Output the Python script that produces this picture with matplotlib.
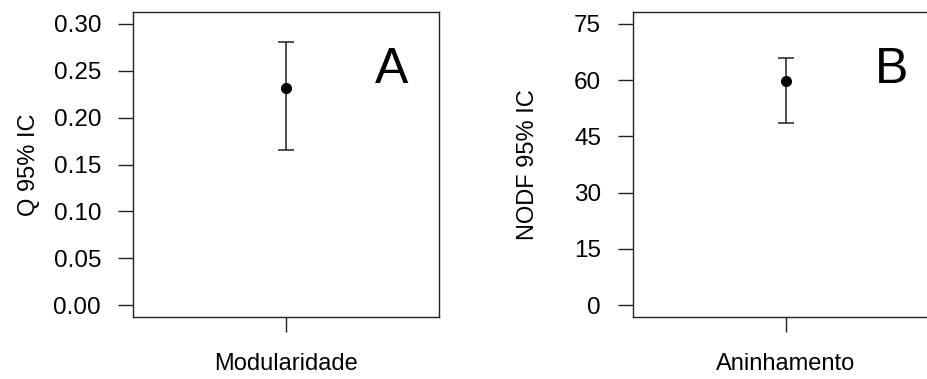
import matplotlib
matplotlib.use('Agg')
import matplotlib.pyplot as plt

plt.rcParams['font.family'] = ['Liberation Sans', 'DejaVu Sans']

# painel A - modularidade
mod_nome = ['Modularidade']
mod_media = [0.232]
mod_inf = [0.166]
mod_sup = [0.281]
mod_ticks = [0.00, 0.05, 0.10, 0.15, 0.20, 0.25, 0.30]

# painel B - aninhamento
nodf_nome = ['Aninhamento']
nodf_media = [59.7]
nodf_inf = [48.5]
nodf_sup = [65.9]
nodf_ticks = [0, 15, 30, 45, 60, 75]


def painel(ax, nome, media, inf, sup, ticks, ylab, letra, fmt, ypad):
    x = [1]
    err = [[media[0] - inf[0]], [sup[0] - media[0]]]
    ax.errorbar(x, media, yerr=err, fmt='o', color='black', ms=7,
                ecolor='#222222', elinewidth=1.1, capsize=5.5, capthick=1.1)
    ax.set_xlim(0.5, 1.5)
    span = ticks[-1] - ticks[0]
    ax.set_ylim(ticks[0] - span * 0.0425, ticks[-1] + span * 0.0425)
    ax.set_yticks(ticks)
    ax.set_yticklabels([fmt.format(t) for t in ticks])
    ax.set_xticks(x)
    ax.set_xticklabels([''])
    ax.set_xlabel(nome[0], fontsize=17, labelpad=3)
    ax.set_ylabel(ylab, fontsize=17, labelpad=ypad)
    ax.tick_params(length=11, width=1.0, color='#222222', labelsize=17.5, pad=12)
    for s in ax.spines.values():
        s.set_linewidth(1.0)
        s.set_color('#222222')
    ax.text(0.846, 0.81, letra, transform=ax.transAxes, fontsize=36,
            ha='center', va='center')


fig = plt.figure(figsize=(9.28, 3.79), dpi=100)
ax1 = fig.add_axes([0.1433, 0.1636, 0.3297, 0.8047])
ax2 = fig.add_axes([0.6821, 0.1636, 0.3297, 0.8047])

painel(ax1, mod_nome, mod_media, mod_inf, mod_sup, mod_ticks, 'Q 95% IC', 'A', '{:.2f}', 10)
painel(ax2, nodf_nome, nodf_media, nodf_inf, nodf_sup, nodf_ticks, 'NODF 95% IC', 'B', '{:.0f}', 25)

fig.savefig('out.png', dpi=100)
